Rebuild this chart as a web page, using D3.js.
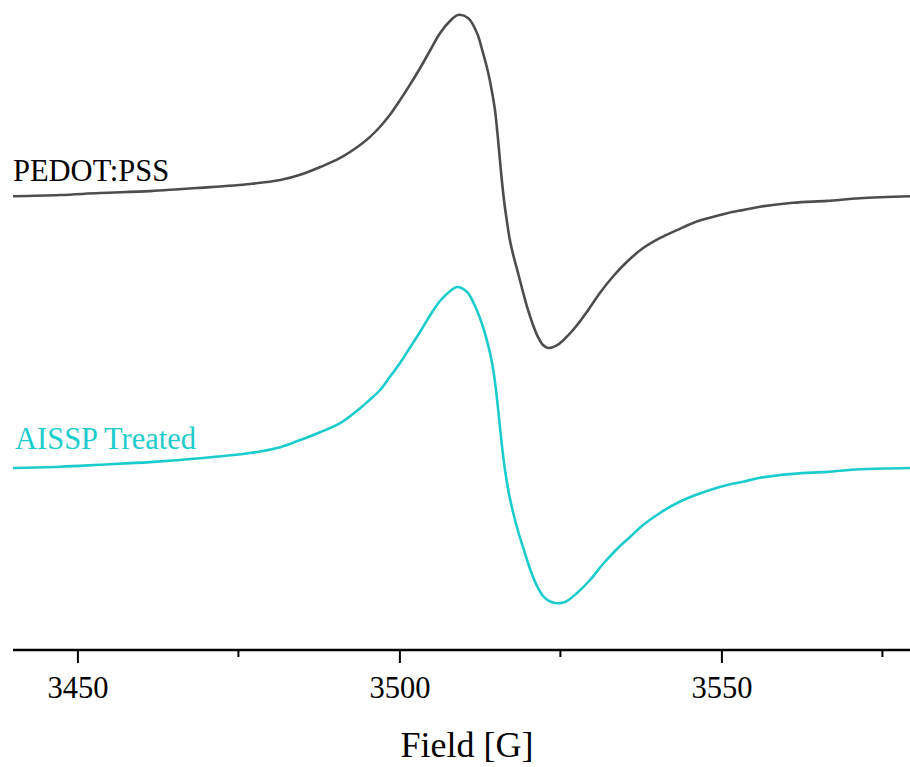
<!DOCTYPE html>
<html>
<head>
<meta charset="utf-8">
<script src="https://cdn.jsdelivr.net/npm/d3@7"></script>
<style>
  html, body { margin: 0; padding: 0; background: #fff; }
  svg { display: block; }
  text { font-family: "Liberation Serif", "Times New Roman", serif; }
</style>
</head>
<body>
<div id="chart"></div>
<script>
// Field axis values (G) and signal (a.u.) for each spectrum
const fieldPEDOT = [3440.0,3447.3,3453.5,3461.3,3469.0,3476.8,3481.5,3484.6,3487.7,3490.8,3493.9,3495.4,3497.0,3498.5,3500.1,3501.6,3503.2,3504.8,3506.3,3507.9,3509.1,3510.7,3512.05,3512.98,3513.76,3514.38,3514.84,3515.31,3515.78,3516.24,3516.71,3517.17,3517.80,3518.42,3519.19,3519.97,3520.75,3521.52,3522.30,3523.07,3524.5,3526.0,3527.6,3529.1,3531.1,3533.2,3535.3,3537.8,3540.5,3543.1,3545.6,3548.2,3550.9,3553.4,3556.0,3561.1,3566.4,3571.5,3579.3];
const signalPEDOT = [69.8,70.0,70.3,70.6,71.1,71.7,72.3,73.1,74.3,75.7,77.7,78.9,80.5,82.3,84.6,86.9,89.5,92.3,94.9,96.8,97.7,97.2,94.92,91.85,88.92,85.85,83.08,78.62,73.54,69.23,65.85,63.0,60.3,58.0,55.08,52.31,50.0,48.15,46.92,46.46,46.9,48.2,50.0,52.0,54.9,57.5,59.7,61.8,63.4,64.6,65.7,66.5,67.2,67.7,68.2,68.8,69.1,69.5,69.8];

const fieldAISSP = [3440.0,3447.3,3453.5,3461.3,3469.0,3476.8,3481.5,3484.6,3487.7,3490.8,3493.9,3495.4,3497.0,3498.5,3500.1,3501.6,3503.2,3504.8,3506.3,3507.9,3508.94,3510.50,3511.74,3512.98,3514.07,3514.53,3515.00,3515.47,3515.93,3516.40,3517.02,3517.64,3518.42,3519.19,3519.97,3520.75,3521.52,3522.30,3523.23,3524.16,3525.71,3527.58,3529.60,3531.61,3533.79,3535.81,3537.83,3540.47,3543.11,3545.59,3548.23,3550.9,3553.4,3556.0,3561.1,3566.4,3571.5,3579.3];
const signalAISSP = [28.0,28.2,28.5,28.9,29.5,30.3,31.2,32.3,33.5,34.9,37.2,38.5,40.0,42.0,44.15,46.46,48.92,51.54,53.69,55.23,55.85,55.08,52.92,49.69,45.69,43.38,40.0,35.69,31.38,27.69,24.0,21.23,18.31,15.85,13.38,11.23,9.54,8.31,7.54,7.23,7.38,8.77,10.77,13.23,15.54,17.38,19.23,21.08,22.62,23.69,24.62,25.4,25.9,26.5,27.1,27.4,27.8,28.0];

const seriesNames = ["PEDOT:PSS", "AISSP Treated"];
const seriesColors = ["#4d4d4d", "#1ccccc"];
const xTicksMajor = [3450, 3500, 3550];
const xTicksMinor = [3475, 3525, 3575];
const xDomain = [3440, 3580];
const yDomain = [0, 100];
const xTitle = "Field [G]";

const W = 910, H = 767;
const FONT = "Liberation Serif, Times New Roman, serif";
const svg = d3.select("#chart").append("svg").attr("width", W).attr("height", H);

const x = d3.scaleLinear().domain(xDomain).range([13, 914.6]);
const y = d3.scaleLinear().domain(yDomain).range([650, 0]);

const series = [
  { name: seriesNames[0], color: seriesColors[0], data: fieldPEDOT.map((f, i) => [f, signalPEDOT[i]]) },
  { name: seriesNames[1], color: seriesColors[1], data: fieldAISSP.map((f, i) => [f, signalAISSP[i]]) }
];

const line = d3.line().x(d => x(d[0])).y(d => y(d[1])).curve(d3.curveCatmullRom.alpha(0.5));

series.forEach(s => {
  svg.append("path").datum(s.data)
    .attr("fill", "none").attr("stroke", s.color).attr("stroke-width", 2.6)
    .attr("stroke-linejoin", "round").attr("d", line);
});

// series labels
svg.append("text").attr("x", 13).attr("y", 181).attr("font-family", FONT)
  .attr("font-size", 30.5).attr("fill", "#000").text(seriesNames[0]);
svg.append("text").attr("x", 15).attr("y", 449).attr("font-family", FONT)
  .attr("font-size", 30.5).attr("fill", seriesColors[1]).text(seriesNames[1]);

// x axis
const axisY = 650;
const gAxis = svg.append("g").attr("transform", `translate(0,${axisY})`);
gAxis.call(d3.axisBottom(x).tickValues(xTicksMajor).tickSize(13).tickPadding(13).tickFormat(d3.format("d")))
  .call(g => g.select(".domain").attr("stroke-width", 2.5).attr("d", `M13,0H910`))
  .call(g => g.selectAll(".tick line").attr("stroke-width", 2))
  .call(g => g.selectAll(".tick text").attr("font-size", 30.5).attr("fill", "#000")
    .attr("font-family", FONT));
gAxis.selectAll(".minor").data(xTicksMinor).enter().append("line")
  .attr("class", "minor")
  .attr("x1", d => x(d)).attr("x2", d => x(d))
  .attr("y1", 0).attr("y2", 7).attr("stroke", "#000").attr("stroke-width", 2);

svg.append("text").attr("x", x(3510.5)).attr("y", 757).attr("font-family", FONT)
  .attr("text-anchor", "middle").attr("font-size", 36).attr("fill", "#000").text(xTitle);
</script>
</body>
</html>
